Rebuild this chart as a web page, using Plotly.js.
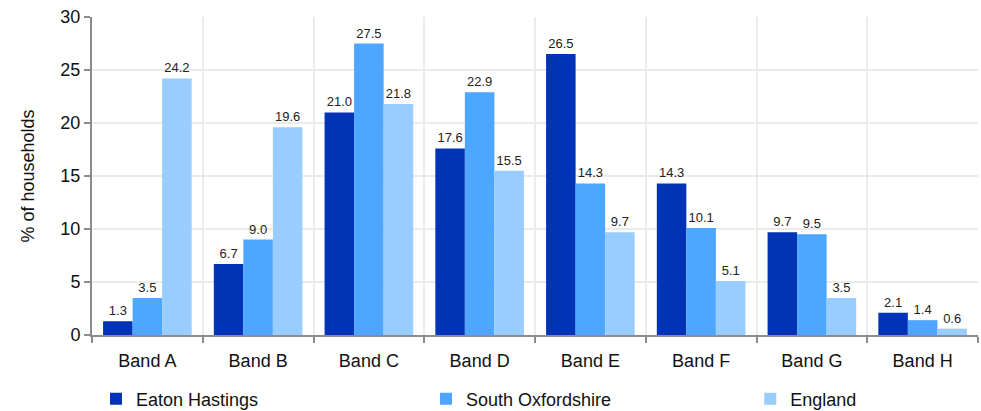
<!DOCTYPE html>
<html><head><meta charset="utf-8">
<script src="https://cdn.plot.ly/plotly-3.0.1.min.js"></script>
<style>body{margin:0}#c{width:981px;height:411px}</style>
</head><body><div id="c"></div>
<script>
const categories = ["Band A","Band B","Band C","Band D","Band E","Band F","Band G","Band H"];
const eatonHastings = [1.3, 6.7, 21.0, 17.6, 26.5, 14.3, 9.7, 2.1];
const southOxfordshire = [3.5, 9.0, 27.5, 22.9, 14.3, 10.1, 9.5, 1.4];
const england = [24.2, 19.6, 21.8, 15.5, 9.7, 5.1, 3.5, 0.6];
const seriesNames = ["Eaton Hastings","South Oxfordshire","England"];
const colors = ["#0033b5","#4da6ff","#99ccff"];
const values = [eatonHastings, southOxfordshire, england];
const legendIds = ['legend','legend2','legend3'];

const traces = values.map((v,i)=>({
  type:'bar', x:categories, y:v, name:seriesNames[i],
  legend:legendIds[i],
  marker:{color:colors[i]},
  text:v.map(d=>d.toFixed(1)), textposition:'outside', cliponaxis:false,
  textfont:{family:'Liberation Sans, Arial, sans-serif', size:13, color:'#222'},
  hoverinfo:'none'
}));

const legBase = {orientation:'h', yref:'container', y:0.029, yanchor:'middle',
  xanchor:'left', font:{size:18, color:'#111'}, bgcolor:'rgba(0,0,0,0)'};
const layout = {
  width:981, height:411,
  margin:{l:92, r:3, t:17, b:76},
  barmode:'group', bargap:0.2, bargroupgap:0,
  paper_bgcolor:'#fff', plot_bgcolor:'#fff',
  font:{family:'Liberation Sans, Arial, sans-serif', color:'#111'},
  xaxis:{tickson:'boundaries', showgrid:true, gridcolor:'#ebebeb', gridwidth:2,
    showline:true, linecolor:'#8c8c8c', linewidth:2, ticks:'outside', ticklen:6,
    tickcolor:'#8c8c8c', tickwidth:2, tickfont:{size:18, color:'#111'},
    ticklabelstandoff:8},
  yaxis:{range:[0,30], dtick:5, showgrid:true, gridcolor:'#ebebeb', gridwidth:2,
    showline:true, linecolor:'#8c8c8c', linewidth:2, ticks:'outside', ticklen:6,
    tickcolor:'#8c8c8c', tickwidth:2, tickfont:{size:18, color:'#111'}, zeroline:false,
    title:{text:'% of households', font:{size:18, color:'#111'}, standoff:21}},
  showlegend:true,
  legend:Object.assign({}, legBase, {x:0.0045}),
  legend2:Object.assign({}, legBase, {x:0.377}),
  legend3:Object.assign({}, legBase, {x:0.743})
};
Plotly.newPlot('c', traces, layout, {displayModeBar:false, staticPlot:true});
</script></body></html>
